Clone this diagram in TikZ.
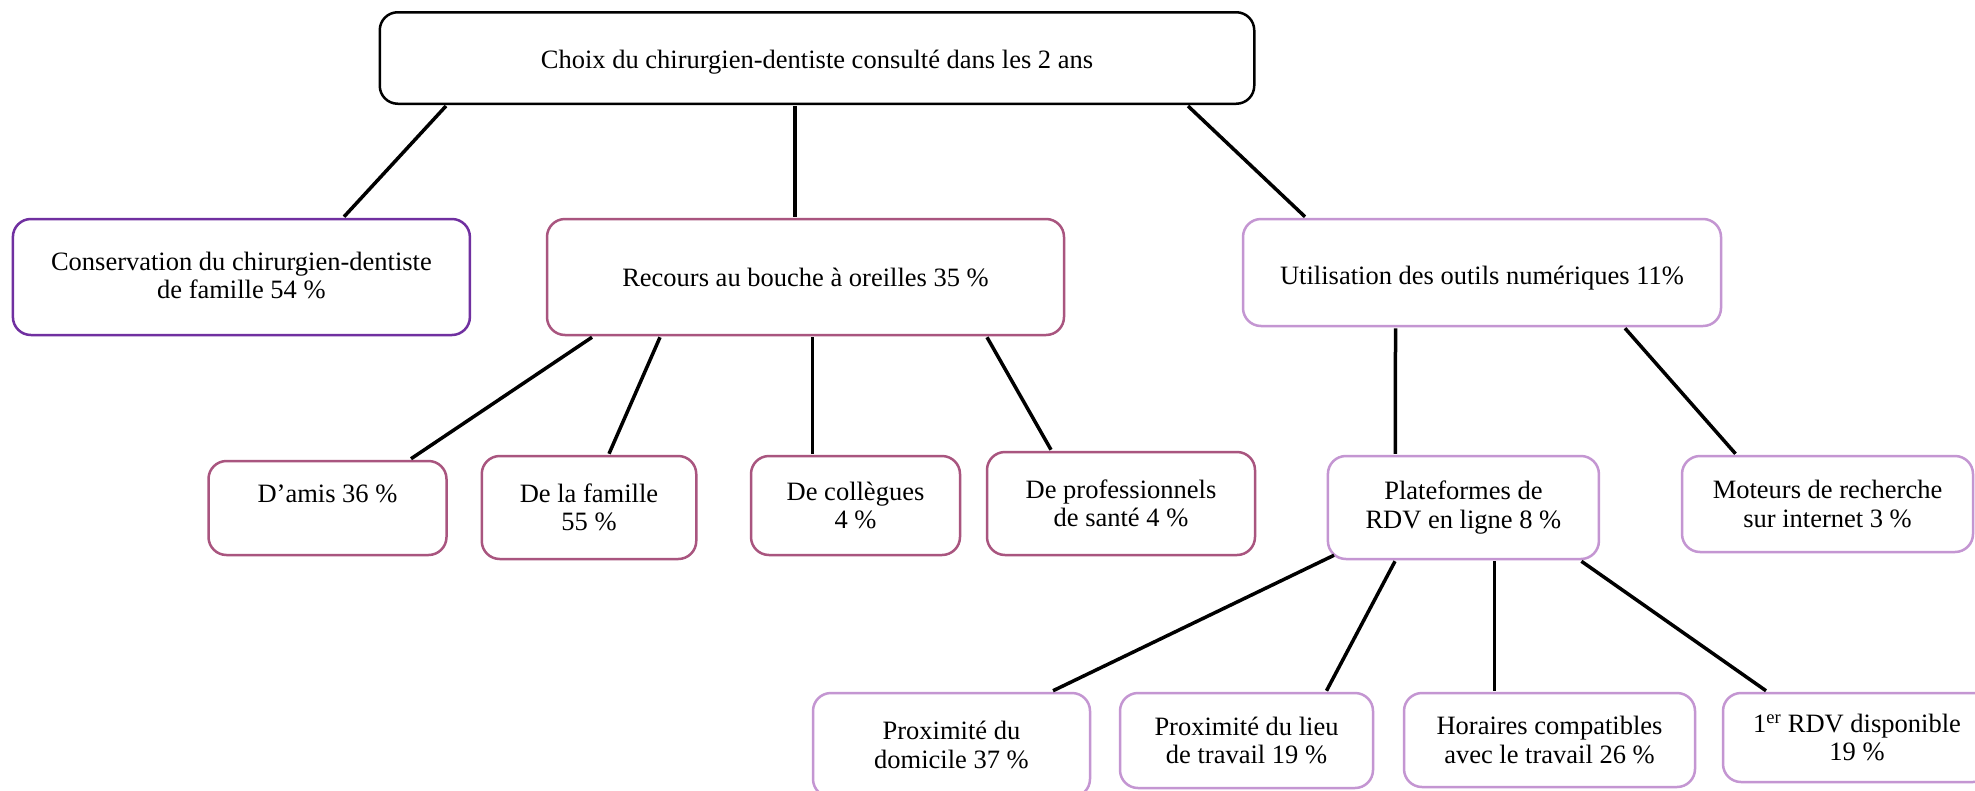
\documentclass[tikz,border=0pt]{standalone}
\usepackage{fontspec}
\setmainfont{Liberation Serif}
\definecolor{cpurple}{HTML}{7030A0}
\definecolor{cmauve}{HTML}{A9557F}
\definecolor{clilac}{HTML}{C496D2}
\tikzset{
  box/.style={draw, rectangle, rounded corners=18pt, line width=2.5pt, fill=white,
    inner sep=0pt, align=center, font=\fontsize{26.5}{28.5}\selectfont},
  rootbox/.style={box, draw=black},
  pbox/.style={box, draw=cpurple},
  mbox/.style={box, draw=cmauve},
  lbox/.style={box, draw=clilac},
  link/.style={draw=black, line width=3.5pt}
}
\begin{document}
\begin{tikzpicture}[x=1pt,y=-1pt]
\useasboundingbox (0,0) rectangle (1975,790);
\clip (0,0) rectangle (1975,790);
\fill[white] (0,0) rectangle (1975,790);
\node[rootbox, minimum width=874.5pt, minimum height=91.5pt] (root) at (817,58) {\raisebox{-4pt}[\height][\depth]{Choix du chirurgien-dentiste consulté dans les 2 ans}};
\node[pbox, minimum width=457pt, minimum height=116pt] (cons) at (241.4,277) {\raisebox{-2pt}[\height][\depth]{\begin{tabular}{@{}c@{}}Conservation du chirurgien-dentiste\\de famille 54~\%\end{tabular}}};
\node[mbox, minimum width=517pt, minimum height=116pt] (rec) at (805.5,277) {Recours au bouche à oreilles 35~\%};
\node[lbox, minimum width=478pt, minimum height=107pt] (util) at (1482,272.5) {\raisebox{-6pt}[\height][\depth]{Utilisation des outils numériques 11\%}};
\node[mbox, minimum width=238pt, minimum height=94pt] (amis) at (327.5,508) {D’amis 36~\%\\\mbox{}};
\node[mbox, minimum width=214.5pt, minimum height=103pt] (fam) at (589,507.5) {De la famille\\55~\%};
\node[mbox, minimum width=209pt, minimum height=99pt] (coll) at (855.5,505.5) {De collègues\\4~\%};
\node[mbox, minimum width=268pt, minimum height=103pt] (prof) at (1121,503.5) {De professionnels\\de santé 4~\%};
\node[lbox, minimum width=271pt, minimum height=103pt] (plat) at (1463.4,507.5) {Plateformes de\\RDV en ligne 8~\%};
\node[lbox, minimum width=291pt, minimum height=96pt] (mot) at (1827.5,504) {Moteurs de recherche\\sur internet 3~\%};
\node[lbox, minimum width=277pt, minimum height=104pt] (dom) at (951.5,745) {Proximité du\\domicile 37~\%};
\node[lbox, minimum width=253pt, minimum height=95pt] (lieu) at (1246.5,740.5) {Proximité du lieu\\de travail 19~\%};
\node[lbox, minimum width=291pt, minimum height=94pt] (hor) at (1549.5,740) {Horaires compatibles\\avec le travail 26~\%};
\node[lbox, minimum width=268pt, minimum height=89pt] (first) at (1857,737.5) {1\textsuperscript{er} RDV disponible\\19~\%};
% connectors
\draw[link] ([xshift=-371pt,yshift=-1pt]root.south) -- ([xshift=102.6pt,yshift=1pt]cons.north);
\draw[link] ([xshift=-22pt,yshift=-1pt]root.south) -- ([xshift=-10.5pt,yshift=1pt]rec.north);
\draw[link] ([xshift=371pt,yshift=-1pt]root.south) -- ([xshift=-177pt,yshift=1pt]util.north);
\draw[link] ([xshift=-213.5pt,yshift=-1pt]rec.south) -- ([xshift=83.5pt,yshift=1pt]amis.north);
\draw[link] ([xshift=-145.5pt,yshift=-1pt]rec.south) -- ([xshift=20pt,yshift=1pt]fam.north);
\draw[link] ([xshift=7pt,yshift=-1pt]rec.south) -- ([xshift=-43pt,yshift=1pt]coll.north);
\draw[link] ([xshift=181.5pt,yshift=-1pt]rec.south) -- ([xshift=-70pt,yshift=1pt]prof.north);
\draw[link] ([xshift=-86.5pt,yshift=-1pt]util.south) -- ([xshift=-68pt,yshift=1pt]plat.north);
\draw[link] ([xshift=143pt,yshift=-1pt]util.south) -- ([xshift=-92pt,yshift=1pt]mot.north);
\draw[link] ([xshift=-129.4pt,yshift=5pt]plat.south) -- ([xshift=101.5pt,yshift=1pt]dom.north);
\draw[link] ([xshift=-68.4pt,yshift=-1pt]plat.south) -- ([xshift=80pt,yshift=1pt]lieu.north);
\draw[link] ([xshift=31pt,yshift=-1pt]plat.south) -- ([xshift=-55.1pt,yshift=1pt]hor.north);
\draw[link] ([xshift=118pt,yshift=-1pt]plat.south) -- ([xshift=-91pt,yshift=1pt]first.north);
\end{tikzpicture}
\end{document}
